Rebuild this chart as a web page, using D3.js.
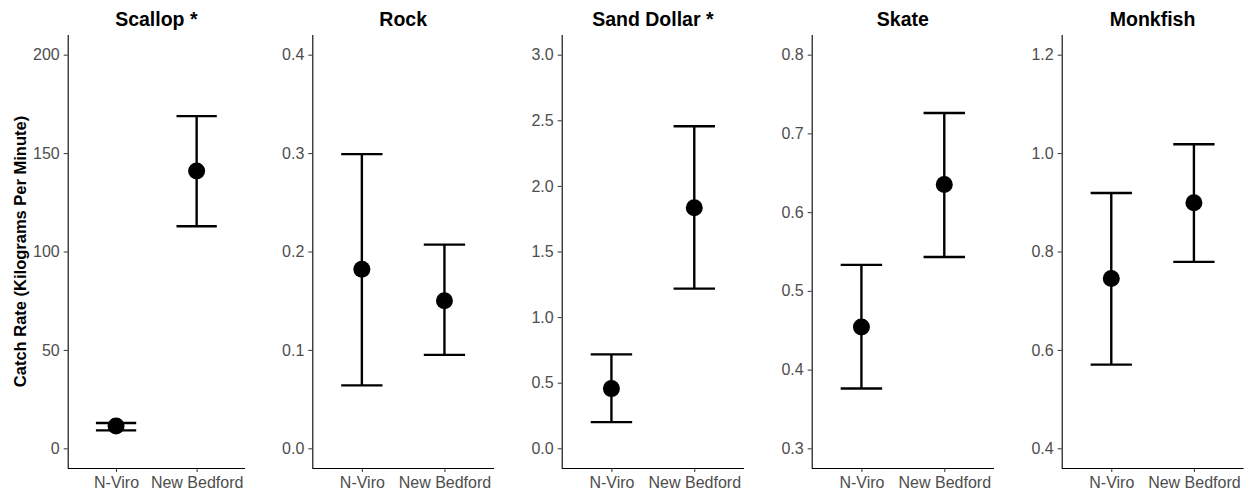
<!DOCTYPE html>
<html><head><meta charset="utf-8">
<script src="https://cdn.jsdelivr.net/npm/d3@7"></script>
<style>body{margin:0;background:#fff;} svg{display:block;}</style>
</head><body>
<svg id="chart" width="1249" height="496"></svg>
<script>
const categories = ["N-Viro", "New Bedford"];
const panelTitles = ["Scallop *", "Rock", "Sand Dollar *", "Skate", "Monkfish"];
const means = [[11.3, 140.9], [0.182, 0.150], [0.455, 1.834], [0.454, 0.635], [0.745, 0.899]];
const lower = [[9.1, 112.8], [0.064, 0.095], [0.200, 1.217], [0.376, 0.543], [0.570, 0.779]];
const upper = [[12.9, 168.8], [0.299, 0.207], [0.716, 2.454], [0.533, 0.726], [0.919, 1.018]];
const yLimits = [[0, 200], [0, 0.4], [0, 3], [0.3, 0.8], [0.4, 1.2]];
const yTicks = [[0, 50, 100, 150, 200], [0, 0.1, 0.2, 0.3, 0.4], [0, 0.5, 1, 1.5, 2, 2.5, 3], [0.3, 0.4, 0.5, 0.6, 0.7, 0.8], [0.4, 0.6, 0.8, 1.0, 1.2]];
const tickFormats = ["d", ".1f", ".1f", ".1f", ".1f"];
const yTitle = "Catch Rate (Kilograms Per Minute)";

const svg = d3.select("#chart");
const font = "'Liberation Sans', Arial, sans-serif";
const plotTop = 35, plotBottom = 468;
const panelX = [[67.7, 245], [312.3, 494], [561.7, 744], [811.7, 994], [1061.7, 1243.5]];

panelTitles.forEach((title, i) => {
  const [lo, hi] = yLimits[i];
  const pad = (hi - lo) * 0.05;
  const y = d3.scaleLinear().domain([lo - pad, hi + pad]).range([plotBottom, plotTop]);
  const x = d3.scalePoint().domain(categories).range(panelX[i]).padding(0.6);
  const g = svg.append("g");

  const yAxis = g.append("g").attr("transform", `translate(${panelX[i][0]},0)`)
    .call(d3.axisLeft(y).tickValues(yTicks[i]).tickFormat(d3.format(tickFormats[i])).tickSize(4).tickPadding(4));
  const xAxis = g.append("g").attr("transform", `translate(0,${plotBottom})`)
    .call(d3.axisBottom(x).tickSize(4).tickPadding(5));
  [yAxis, xAxis].forEach(a => {
    a.select(".domain").attr("stroke", "#000").attr("stroke-width", 1.1);
    a.selectAll(".tick line").attr("stroke", "#333").attr("stroke-width", 1);
    a.selectAll(".tick text").attr("fill", "#4d4d4d").style("font-family", font).style("font-size", "16px");
  });
  yAxis.select(".domain").attr("d", `M0.5,${plotTop}V${plotBottom}`);
  xAxis.select(".domain").attr("d", `M${panelX[i][0]},0.5H${panelX[i][1]}`);

  const capW = x.step() * 0.25;
  categories.forEach((c, j) => {
    const cx = x(c);
    g.append("line").attr("x1", cx).attr("x2", cx).attr("y1", y(lower[i][j])).attr("y2", y(upper[i][j]))
      .attr("stroke", "#000").attr("stroke-width", 2.4);
    [lower[i][j], upper[i][j]].forEach(v => {
      g.append("line").attr("x1", cx - capW).attr("x2", cx + capW).attr("y1", y(v)).attr("y2", y(v))
        .attr("stroke", "#000").attr("stroke-width", 2.4);
    });
    g.append("circle").attr("cx", cx).attr("cy", y(means[i][j])).attr("r", 8.5).attr("fill", "#000");
  });

  g.append("text").attr("x", (panelX[i][0] + panelX[i][1]) / 2).attr("y", 26)
    .attr("text-anchor", "middle").style("font-family", font).style("font-weight", "bold")
    .style("font-size", "19.5px").attr("fill", "#000").text(title);
});

svg.append("text").attr("transform", `translate(26,${(plotTop + plotBottom) / 2}) rotate(-90)`)
  .attr("text-anchor", "middle").style("font-family", font).style("font-weight", "bold")
  .style("font-size", "16.5px").attr("fill", "#000").text(yTitle);
</script>
</body></html>
